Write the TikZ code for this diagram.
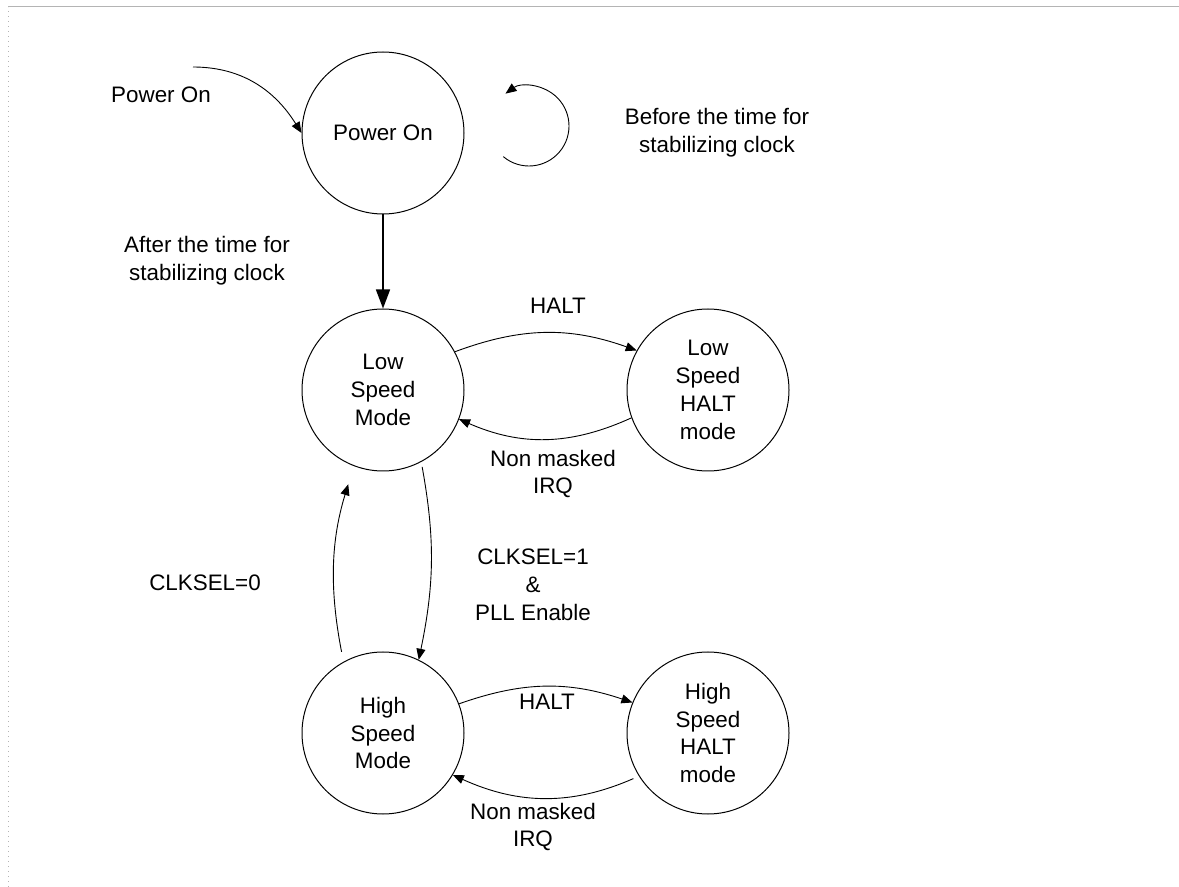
\documentclass[tikz,border=0pt]{standalone}
\usepackage{fontspec}
\setmainfont{Liberation Sans}
\usetikzlibrary{arrows.meta,positioning}
\definecolor{cLine} {HTML}{000000}
\definecolor{cFrame}{HTML}{B4B4B4}

\begin{document}
\begin{tikzpicture}[
  x=0.5pt, y=-0.5pt,
  font=\fontsize{11.2}{13.9}\selectfont,
  state/.style={
    circle, draw=cLine, line width=0.5pt,
    minimum size=81pt, inner sep=0pt, align=center},
  lbl/.style ={align=center, inner sep=0pt},
  ar/.style  ={-{Triangle[length=5.5pt,width=4.5pt]}, draw=cLine, line width=0.45pt},
  arb/.style ={-{Triangle[length=9.5pt,width=7pt]}, draw=cLine, line width=0.8pt},
]
\useasboundingbox (0,0) rectangle (1179,887);

% ---------------------------------------------------------------- frame
\draw[cFrame, dotted, line width=0.5pt] (8,887) -- (8,7);
\draw[cFrame, line width=0.5pt] (8,7) -- (1179,7);

% ---------------------------------------------------------------- states
\node[state] (pwr) at (383,133) {Power On};
\node[state, below=47pt of pwr] (lsm) {Low\\Speed\\Mode};
\node[state, right=81pt of lsm] (lsh) {Low\\Speed\\HALT\\mode};
\node[state, below=90pt of lsm] (hsm) {High\\Speed\\Mode};
\node[state, right=81pt of hsm] (hsh) {High\\Speed\\HALT\\mode};

% ---------------------------------------------------------------- labels
\coordinate (pwrin) at (193,67);
\coordinate (loopc) at (529,126);

\node[lbl] (lpwr)    at (161,95)  {Power On};
\node[lbl] (lbefore) at (717,133) {Before the time for\\stabilizing clock};
\node[lbl] (lafter)  at (207,261) {After the time for\\stabilizing clock};
\node[lbl] (lhalt1)  at (558,306) {HALT};
\node[lbl] (lirq1)   at (553,474) {Non masked\\IRQ};
\node[lbl] (lclk0)   at (205,583) {CLKSEL=0};
\node[lbl] (lclk1)   at (533,585) {CLKSEL=1\\\&\\PLL Enable};
\node[lbl] (lhalt2)  at (547,702) {HALT};
\node[lbl] (lirq2)   at (533,827) {Non masked\\IRQ};

% ---------------------------------------------------------------- arrows
\draw[ar]  (pwrin) to[out=0, in=122] (pwr.west);
\draw[ar]  ([shift={(230:20pt)}]loopc) arc[start angle=230, end angle=486, radius=20pt];
\draw[arb] (pwr.south) -- (lsm.north);

\draw[ar] (lsm.28)  to[bend left=20] (lsh.151);
\draw[ar] (lsh.200) to[bend left=24] (lsm.339);

\draw[ar, shorten <=2.5pt] (lsm.298) to[bend left=11] (hsm.64);
\draw[ar, shorten <=5pt, shorten >=9.5pt] (hsm.119) to[bend left=14] (lsm.249);

\draw[ar] (hsm.21)  to[bend left=19] (hsh.158);
\draw[ar, shorten <=3pt] (hsh.212) to[bend left=24] (hsm.329);

\end{tikzpicture}
\end{document}
